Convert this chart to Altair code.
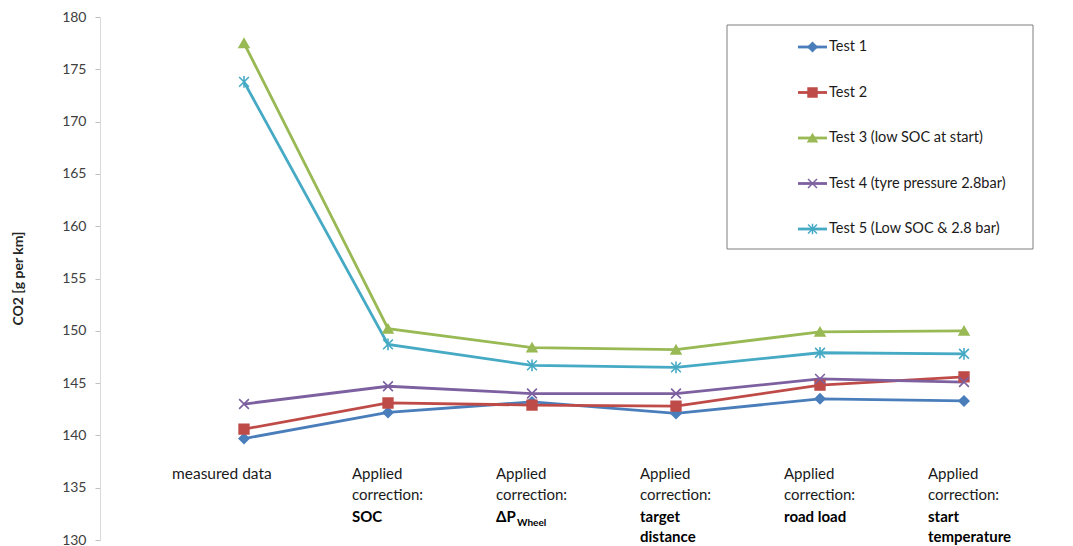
import altair as alt
import pandas as pd

# ---- data ----
cat_index = [1, 2, 3, 4, 5, 6]
label_plain = ["measured data", "Applied\ncorrection:", "Applied\ncorrection:",
               "Applied\ncorrection:", "Applied\ncorrection:", "Applied\ncorrection:"]
label_bold = ["", "SOC", "ΔP", "target\ndistance", "road load", "start\ntemperature"]
label_sub = ["", "", "Wheel", "", "", ""]

series = ["Test 1", "Test 2", "Test 3 (low SOC at start)",
          "Test 4 (tyre pressure 2.8bar)", "Test 5 (Low SOC & 2.8 bar)"]
test1 = [139.7, 142.2, 143.2, 142.1, 143.5, 143.3]
test2 = [140.6, 143.1, 142.9, 142.8, 144.8, 145.6]
test3 = [177.5, 150.2, 148.4, 148.2, 149.9, 150.0]
test4 = [143.0, 144.7, 144.0, 144.0, 145.4, 145.1]
test5 = [173.8, 148.7, 146.7, 146.5, 147.9, 147.8]

colors = ["#4A7EBB", "#BE4B48", "#98B954", "#7D60A0", "#46AAC5"]
X_PATH = "M-1,-1L1,1M-1,1L1,-1"
STAR_PATH = "M-1,-1L1,1M-1,1L1,-1M0,-1.2L0,1.2"
shapes = ["diamond", "square", "triangle-up", X_PATH, STAR_PATH]

FONT = "Lato"

rows = []
for name, vals in zip(series, [test1, test2, test3, test4, test5]):
    for i, v in zip(cat_index, vals):
        rows.append({"series": name, "idx": i, "value": v})
df = pd.DataFrame(rows)

labels_df = pd.DataFrame({"idx": cat_index, "plain": label_plain,
                          "bold": label_bold, "sub": label_sub})
legend_df = pd.DataFrame({"series": series})

color_scale = alt.Scale(domain=series, range=colors)
shape_scale = alt.Scale(domain=series, range=shapes)
x_enc = alt.X("idx:Q", scale=alt.Scale(domain=[0, 6.5]), axis=None)
y_scale = alt.Scale(domain=[130, 180])

y_axis = alt.Axis(values=list(range(130, 181, 5)), grid=False,
                  domainColor="#D9D9D9", tickColor="#BFBFBF", tickSize=5,
                  labelPadding=9, labelFontSize=14, labelColor="#404040",
                  labelFont=FONT, title="CO2 [g per km]", titleFont=FONT,
                  titleFontSize=14, titleFontWeight="bold", titleColor="#262626",
                  titleX=-82, titleY=261, titleAngle=270, titleAlign="center",
                  titleBaseline="middle")

y_enc = alt.Y("value:Q", scale=y_scale, axis=y_axis)

lines = alt.Chart(df).mark_line(strokeWidth=2.8).encode(
    x=x_enc,
    y=y_enc,
    color=alt.Color("series:N", scale=color_scale, legend=None),
    order="idx:Q",
)

points = alt.Chart(df).mark_point(filled=True, size=95, strokeWidth=1.6, opacity=1).encode(
    x=x_enc,
    y=y_enc,
    shape=alt.Shape("series:N", scale=shape_scale, legend=None),
    fill=alt.Fill("series:N", scale=color_scale, legend=None),
    stroke=alt.Stroke("series:N", scale=color_scale, legend=None),
)

plain_txt = alt.Chart(labels_df).transform_filter("datum.idx > 1").mark_text(
    align="left", baseline="alphabetic", dx=-36, font=FONT, fontSize=15,
    lineBreak="\n", lineHeight=21, color="#1A1A1A"
).encode(x=x_enc, y=alt.value(462), text="plain:N")

first_txt = alt.Chart(labels_df).transform_filter("datum.idx == 1").mark_text(
    align="left", baseline="alphabetic", dx=-72, font=FONT, fontSize=15.5,
    color="#1A1A1A"
).encode(x=x_enc, y=alt.value(462), text="plain:N")

bold_txt = alt.Chart(labels_df).mark_text(
    align="left", baseline="alphabetic", dx=-36, font=FONT, fontSize=15,
    fontWeight="bold", lineBreak="\n", lineHeight=20, color="#000000"
).encode(x=x_enc, y=alt.value(505), text="bold:N")

sub_txt = alt.Chart(labels_df).mark_text(
    align="left", baseline="alphabetic", dx=-15, dy=4, font=FONT, fontSize=10,
    fontWeight="bold", color="#000000"
).encode(x=x_enc, y=alt.value(505), text="sub:N")

main = alt.layer(lines, points, plain_txt, first_txt, bold_txt, sub_txt)

# ---- legend ----
leg_y = alt.Y("series:N",
              scale=alt.Scale(type="point", domain=series, range=[30, 212], padding=0),
              axis=None)

box = alt.Chart(alt.Data(values=[{"a": 1}])).mark_rect(
    fill="white", stroke="#7F7F7F", strokeWidth=1
).encode(x=alt.value(627), x2=alt.value(933), y=alt.value(8), y2=alt.value(232))

leg_rule = alt.Chart(legend_df).mark_rule(strokeWidth=2.8).encode(
    x=alt.value(698), x2=alt.value(727), y=leg_y,
    color=alt.Color("series:N", scale=color_scale, legend=None),
)
leg_pt = alt.Chart(legend_df).mark_point(filled=True, size=80, strokeWidth=1.5, opacity=1).encode(
    x=alt.value(712.5), y=leg_y,
    shape=alt.Shape("series:N", scale=shape_scale, legend=None),
    fill=alt.Fill("series:N", scale=color_scale, legend=None),
    stroke=alt.Stroke("series:N", scale=color_scale, legend=None),
)
leg_txt = alt.Chart(legend_df).mark_text(
    align="left", baseline="middle", font=FONT, fontSize=14.5, color="#1A1A1A", dx=2
).encode(x=alt.value(727), y=leg_y, text="series:N")

legend = alt.layer(box, leg_rule, leg_pt, leg_txt)

chart = alt.layer(main, legend).resolve_scale(y="independent").properties(
    width=936, height=523,
    autosize=alt.AutoSizeParams(type="none"),
    padding={"left": 92, "top": 9, "right": 20, "bottom": 10},
    background="white",
).configure_view(stroke=None)

chart.save("out.html", embed_options={"renderer": "svg", "actions": False})
